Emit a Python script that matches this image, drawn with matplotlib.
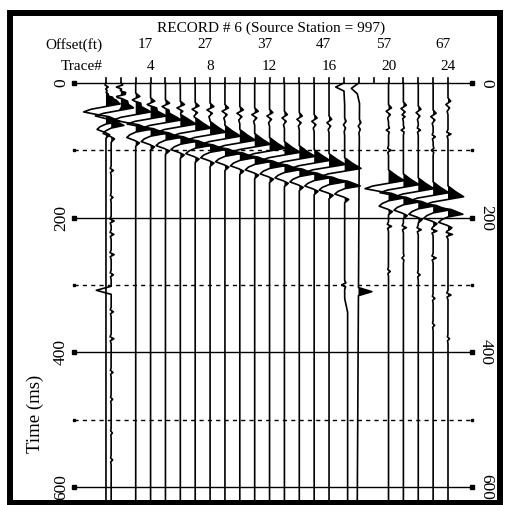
import numpy as np
import matplotlib.pyplot as plt
from matplotlib.patches import Rectangle

plt.rcParams['font.family'] = ['Liberation Serif', 'DejaVu Serif']

# header / axis text
title = "RECORD # 6 (Source Station = 997)"
label_traces = [4, 8, 12, 16, 20, 24]
offset_ft = [17, 27, 37, 47, 57, 67]
time_ticks = [0, 200, 400, 600]
dash_times = [100, 300, 500]

# traces
trace_no = list(range(1, 25))
dead_traces = [19]

# main (large) arrival: peak time in ms and amplitude in trace spacings
event_time = [31, 37, 43, 49, 55, 61, 67, 73, 79, 85, 91, 97,
              103, 109, 115, 121, 127, None, None, 145, 151, 157, 163, 169]
event_amp = [1.0, 0.9, 1.0, 1.05, 1.05, 1.05, 1.05, 1.05, 1.05, 1.05, 1.05, 1.05,
             1.05, 1.05, 1.05, 1.1, 1.1, 0, 0, 1.05, 1.05, 1.05, 1.05, 1.05]
# shape of the main wavelet (ms from peak, relative amplitude)
wav_dt = [-16, -8, 0, 4, 8, 12, 16, 19, 26, 30, 34, 38, 42, 46, 51, 56]
wav_rel = [0.0, 0.45, 1.0, 0.0, -1.0, -1.5, -0.6, 0.2, 0.95, 0.0, -0.4, -0.6, -0.1, 0.25, 0.0, 0.0]

# weak earlier arrival
early_time = [18, 20, 23, 30, 33, 35, 37, 38, 40, 43, 45, 47,
              50, 52, 55, 57, 60, 62, None, 40, 36, 42, 48, 30]
early_amp = [0.2, 0.25, 0.28, 0.28, 0.28, 0.28, 0.26, 0.26, 0.24, 0.24, 0.24, 0.22,
             0.2, 0.2, 0.2, 0.18, 0.1, 0.1, 0, 0.2, 0.2, 0.18, 0.2, 0.18]
early_dt = [-8, -3, 2, 7, 12, 17]
early_rel = [0.0, 1.0, -0.8, 0.6, -0.3, 0.0]

# small wiggles: (trace, time ms, amplitude)
blips = [(1, 6, 0.15), (1, 14, -0.15), (1, 21, 0.2), (2, 6, -0.3), (2, 14, 0.2), (2, 20, -0.25),
         (2, 130, 0.15), (2, 170, 0.12), (2, 205, 0.2), (2, 225, 0.18), (2, 255, 0.2),
         (2, 285, 0.15), (2, 340, 0.15), (2, 380, 0.18), (2, 430, 0.12),
         (2, 470, 0.1), (2, 520, 0.08), (2, 560, 0.1), (17, 300, -0.2),
         (20, 70, -0.15), (20, 100, 0.15), (20, 213, 0.2), (20, 280, 0.12),
         (21, 50, 0.15), (21, 70, -0.15), (21, 215, 0.2), (21, 260, -0.1),
         (22, 70, 0.15), (22, 218, 0.2), (22, 285, 0.12),
         (23, 80, 0.15), (23, 100, -0.12), (23, 220, 0.25), (23, 260, 0.2), (23, 320, 0.12), (23, 360, 0.1),
         (24, 76, 0.2), (24, 225, 0.3), (24, 315, 0.2), (24, 380, 0.1)]
blip_dt = [-7, -3, 0, 3, 7]
blip_rel = [0.0, -0.4, 1.0, -0.3, 0.0]

# single spikes: (trace, time ms, amplitude)
spikes = [(2, 308, -1.0), (18, 310, 0.9), (17, 6, -0.55)]
spike_dt = [-6, 0, 6]
spike_rel = [0.0, 1.0, 0.0]

# slow baseline drift of bad traces: (times, shift in trace spacings)
drift = {2: ([0, 35, 60, 620], [0, 0, -0.65, -0.65]),
         17: ([0, 10, 30, 320, 340, 620], [0, 0, 0.05, 0.05, 0.25, 0.25]),
         18: ([0, 8, 16, 30, 620], [0, -0.5, -0.1, 0.05, -0.1])}

fig = plt.figure(figsize=(5.06, 5.05), dpi=100)
ax = fig.add_axes([0, 0, 1, 1])
ax.set_xlim(-6.126, 27.90)
ax.set_ylim(627.0, -123.3)
ax.axis('off')

t = np.arange(0, 620, 0.5)
for i, k in enumerate(trace_no):
    # tick above the first time line
    ax.plot([k, k], [-7, 0], color='black', lw=1.2)
    if k in dead_traces:
        continue
    sig = np.zeros_like(t)
    if event_time[i] is not None:
        sig += event_amp[i] * np.interp(t - event_time[i], wav_dt, wav_rel, left=0, right=0)
    if early_time[i] is not None:
        sig += early_amp[i] * np.interp(t - early_time[i], early_dt, early_rel, left=0, right=0)
    for bk, bt, ba in blips:
        if bk == k:
            sig += ba * np.interp(t - bt, blip_dt, blip_rel, left=0, right=0)
    for bk, bt, ba in spikes:
        if bk == k:
            sig += ba * np.interp(t - bt, spike_dt, spike_rel, left=0, right=0)
    base = np.full_like(t, float(k))
    if k in drift:
        base = base + np.interp(t, drift[k][0], drift[k][1])
    xs = base + sig
    ax.fill_betweenx(t, base, xs, where=xs > base, interpolate=True, color='black', lw=0)
    ax.plot(xs, t, color='black', lw=1.2)

# time lines
for tt in time_ticks:
    ax.plot([-1.15, 25.6], [tt, tt], color='black', lw=1.0, marker='s', ms=3.5)
    ax.text(-2.02, tt, str(tt), rotation=90, ha='center', va='center', fontsize=12.5)
    ax.text(26.56, tt, str(tt), rotation=270, ha='center', va='center', fontsize=12.5)
for tt in dash_times:
    ax.plot([-1.15, 25.6], [tt, tt], color='black', lw=1.0, ls=(0, (3, 3)), marker='s', ms=2)

ax.text(-3.77, 492, "Time (ms)", rotation=90, ha='center', va='center', fontsize=13.5)

# header rows
ax.text(12.1, -81.7, title, ha='center', va='center', fontsize=11)
ax.text(0.74, -56.5, "Offset(ft)", ha='right', va='center', fontsize=11)
ax.text(0.80, -23.8, "Trace#", ha='right', va='center', fontsize=11)
for k, off in zip(label_traces, offset_ft):
    ax.text(k - 0.35, -56.5, str(off), ha='center', va='center', fontsize=11)
    ax.text(k, -23.8, str(k), ha='center', va='center', fontsize=11)

# thick frame
ax.add_patch(Rectangle((10 / 506, 1 - 503 / 505), 490 / 506, 490 / 505,
                       transform=ax.transAxes, fill=False, ec='black', lw=4.3))

fig.savefig('out.png', dpi=100)
